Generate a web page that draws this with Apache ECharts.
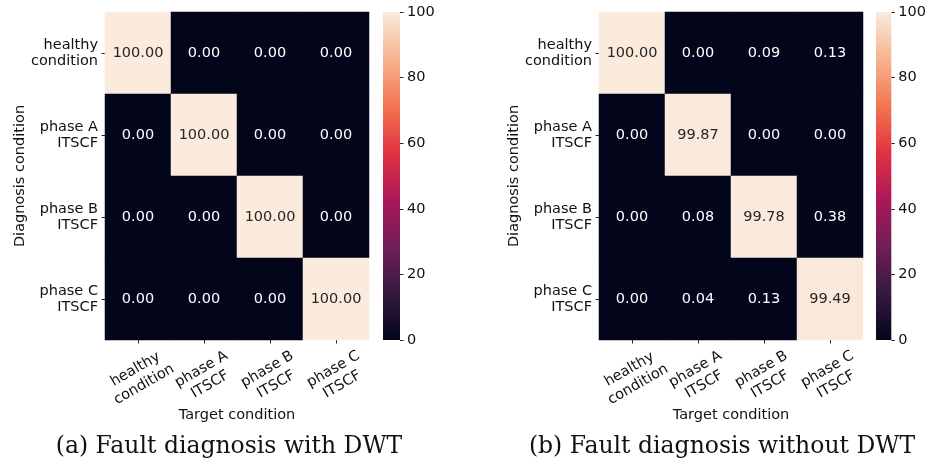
<!DOCTYPE html>
<html><head><meta charset="utf-8">
<script src="https://cdn.jsdelivr.net/npm/echarts@6/dist/echarts.min.js"></script>
<style>html,body{margin:0;padding:0;background:#fff}#c{width:929px;height:463px}</style>
</head><body><div id="c"></div><script>
const targetLabels = ['healthy\ncondition', 'phase A\nITSCF', 'phase B\nITSCF', 'phase C\nITSCF'];
const diagnosisLabels = ['healthy\ncondition', 'phase A\nITSCF', 'phase B\nITSCF', 'phase C\nITSCF'];
// rows = diagnosis condition, columns = target condition
const withDWT = [
  [100.00, 0.00, 0.00, 0.00],
  [0.00, 100.00, 0.00, 0.00],
  [0.00, 0.00, 100.00, 0.00],
  [0.00, 0.00, 0.00, 100.00]
];
const withoutDWT = [
  [100.00, 0.00, 0.09, 0.13],
  [0.00, 99.87, 0.00, 0.00],
  [0.00, 0.08, 99.78, 0.38],
  [0.00, 0.04, 0.13, 99.49]
];
const colorbarRange = [0, 100];
const colorbarStep = 20;
const captions = ['(a) Fault diagnosis with DWT', '(b) Fault diagnosis without DWT'];
const xName = 'Target condition';
const yName = 'Diagnosis condition';

const rocket = ['#03051a', '#35193e', '#701f57', '#ad1759', '#e13342', '#f37651', '#f6b48f', '#faebdd'];
const FONT = 'DejaVu Sans';
const FS = 14.5;

function cells(mat) {
  const out = [];
  mat.forEach((row, r) => row.forEach((v, c) => {
    out.push({ value: [c, r, v], label: { color: v > 50 ? '#262626' : '#ffffff' } });
  }));
  return out;
}

const panels = [
  { hx: 105, cbx: 383, data: withDWT, cap: 229 },
  { hx: 599, cbx: 876, data: withoutDWT, cap: 722 }
];
const TOP = 12, H = 328, W = 264, CBW = 17;

const grid = [], xAxis = [], yAxis = [], series = [], visualMap = [], graphic = [];
panels.forEach((p, i) => {
  const g = grid.length;
  grid.push({ left: p.hx, top: TOP, width: W, height: H, containLabel: false });
  grid.push({ left: p.cbx, top: TOP, width: CBW, height: H, containLabel: false });
  xAxis.push({
    type: 'category', gridIndex: g, data: targetLabels, position: 'bottom',
    axisLine: { show: false },
    axisTick: { show: true, alignWithLabel: true, length: 3.5, lineStyle: { color: '#262626', width: 1 } },
    axisLabel: { rotate: 30, align: 'center', verticalAlign: 'middle', margin: 38, padding: [0, 0, 0, 4],
      fontFamily: FONT, fontSize: FS, color: '#111', lineHeight: 17.5, interval: 0 },
    splitLine: { show: false },
    name: xName, nameLocation: 'middle', nameGap: 68, nameMoveOverlap: false,
    nameTextStyle: { fontFamily: FONT, fontSize: FS, color: '#111' }
  });
  yAxis.push({
    type: 'category', gridIndex: g, data: diagnosisLabels, inverse: true, position: 'left',
    axisLine: { show: false },
    axisTick: { show: true, alignWithLabel: true, length: 3.5, lineStyle: { color: '#262626', width: 1 } },
    axisLabel: { margin: 7, fontFamily: FONT, fontSize: FS, color: '#111', lineHeight: 16.5, align: 'right', interval: 0 },
    splitLine: { show: false },
    name: yName, nameLocation: 'middle', nameGap: 77, nameRotate: 90, nameMoveOverlap: false,
    nameTextStyle: { fontFamily: FONT, fontSize: FS, color: '#111' }
  });
  xAxis.push({ type: 'category', gridIndex: g + 1, data: ['cb'], show: false, boundaryGap: true });
  yAxis.push({
    type: 'value', gridIndex: g + 1, min: colorbarRange[0], max: colorbarRange[1], interval: colorbarStep, position: 'right',
    axisLine: { show: false },
    axisTick: { show: true, length: 3.5, lineStyle: { color: '#262626', width: 1 } },
    axisLabel: { margin: 7, fontFamily: FONT, fontSize: FS, color: '#111' },
    splitLine: { show: false }
  });
  const hs = series.length;
  series.push({
    type: 'heatmap', xAxisIndex: g, yAxisIndex: g, data: cells(p.data),
    label: { show: true, fontFamily: FONT, fontSize: FS, formatter: (prm) => prm.value[2].toFixed(2) },
    itemStyle: { borderWidth: 0 }, emphasis: { disabled: true }, animation: false
  });
  series.push({
    type: 'bar', xAxisIndex: g + 1, yAxisIndex: g + 1, data: [colorbarRange[1]], barWidth: '100%', barCategoryGap: 0,
    itemStyle: {
      color: {
        type: 'linear', x: 0, y: 1, x2: 0, y2: 0,
        colorStops: rocket.map((c, k) => ({ offset: k / (rocket.length - 1), color: c }))
      }
    },
    emphasis: { disabled: true }, animation: false, silent: true
  });
  visualMap.push({ type: 'continuous', show: false, min: colorbarRange[0], max: colorbarRange[1], seriesIndex: hs, inRange: { color: rocket } });
  graphic.push({
    type: 'text', x: p.cap, y: 447,
    style: { text: captions[i], font: '23.5px "DejaVu Serif"', fill: '#111', textAlign: 'center', textVerticalAlign: 'middle' }
  });
});

const chart = echarts.init(document.getElementById('c'), null, { renderer: 'canvas' });
chart.setOption({ animation: false, backgroundColor: '#fff', grid, xAxis, yAxis, series, visualMap, graphic });
</script></body></html>
